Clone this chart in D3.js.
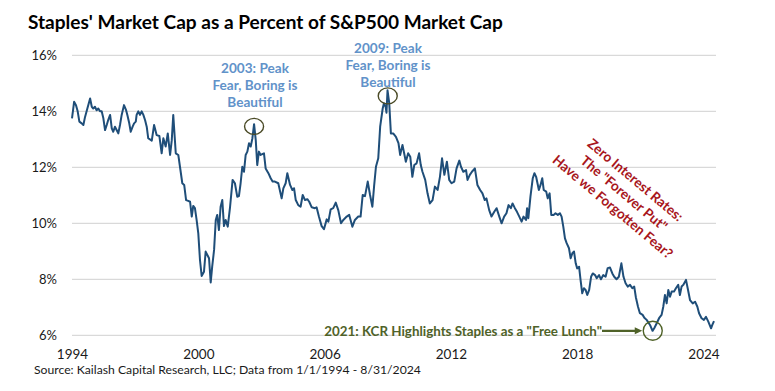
<!DOCTYPE html>
<html>
<head>
<meta charset="utf-8">
<script src="https://cdn.jsdelivr.net/npm/d3@7/dist/d3.min.js"></script>
<style>
  body { margin: 0; background: #fff; }
  text { font-family: Lato, "Open Sans", sans-serif; }
</style>
</head>
<body>
<script>
// decimal year / percent of S&P500 market cap
var years = [
  1994.00, 1994.10, 1994.19, 1994.27, 1994.35, 1994.46, 1994.54, 1994.62, 1994.73, 1994.86, 1994.94,
  1995.01, 1995.09, 1995.17, 1995.25, 1995.33, 1995.41, 1995.49, 1995.57, 1995.65, 1995.72, 1995.81, 1995.89, 1995.96,
  1996.04, 1996.12, 1996.20, 1996.28, 1996.36, 1996.47, 1996.57, 1996.63, 1996.72, 1996.79, 1996.88, 1996.95,
  1997.03, 1997.07, 1997.15, 1997.23, 1997.31, 1997.39, 1997.47, 1997.55, 1997.62, 1997.79, 1997.90,
  1998.02, 1998.15, 1998.26, 1998.34, 1998.45, 1998.55, 1998.66, 1998.74, 1998.81, 1998.93,
  1999.05, 1999.13, 1999.24, 1999.33, 1999.42, 1999.52, 1999.61, 1999.69, 1999.76, 1999.84, 1999.92,
  2000.00, 2000.08, 2000.16, 2000.27, 2000.35, 2000.43, 2000.51, 2000.59, 2000.66, 2000.75, 2000.83, 2000.90, 2000.98,
  2001.06, 2001.14, 2001.22, 2001.30, 2001.40, 2001.51, 2001.63, 2001.74, 2001.85, 2001.93,
  2002.01, 2002.09, 2002.17, 2002.25, 2002.33, 2002.41, 2002.49, 2002.57, 2002.65, 2002.73, 2002.80, 2002.88, 2002.96,
  2003.12, 2003.20, 2003.33, 2003.44, 2003.53, 2003.64, 2003.80, 2003.96,
  2004.04, 2004.15, 2004.23, 2004.36, 2004.47, 2004.55, 2004.63, 2004.75, 2004.86, 2004.96,
  2005.07, 2005.18, 2005.27, 2005.39, 2005.54, 2005.62, 2005.73, 2005.86, 2005.97,
  2006.10, 2006.18, 2006.29, 2006.41, 2006.53, 2006.65, 2006.78, 2006.89,
  2007.05, 2007.17, 2007.32, 2007.44, 2007.60, 2007.71, 2007.81, 2007.92,
  2008.05, 2008.16, 2008.27, 2008.35, 2008.44, 2008.55, 2008.64, 2008.76, 2008.82, 2008.90, 2008.94, 2008.99,
  2009.07, 2009.15, 2009.26, 2009.39, 2009.51, 2009.59, 2009.70, 2009.78, 2009.86, 2009.97,
  2010.07, 2010.17, 2010.26, 2010.37, 2010.49, 2010.57, 2010.65, 2010.78, 2010.89,
  2011.00, 2011.13, 2011.24, 2011.37, 2011.48, 2011.58, 2011.69, 2011.81, 2011.92,
  2012.03, 2012.16, 2012.27, 2012.40, 2012.48, 2012.59, 2012.72, 2012.79, 2012.90,
  2013.00, 2013.14, 2013.26, 2013.39, 2013.50, 2013.61, 2013.69, 2013.82, 2013.93,
  2014.06, 2014.17, 2014.30, 2014.41, 2014.53, 2014.64, 2014.74, 2014.85, 2014.93,
  2015.04, 2015.14, 2015.25, 2015.36, 2015.45, 2015.57, 2015.62, 2015.68, 2015.78, 2015.89, 2015.97,
  2016.05, 2016.18, 2016.26, 2016.34, 2016.41, 2016.53, 2016.60, 2016.69, 2016.77, 2016.88, 2016.97,
  2017.08, 2017.18, 2017.26, 2017.34, 2017.42, 2017.50, 2017.61, 2017.69, 2017.77, 2017.85, 2017.93,
  2018.00, 2018.09, 2018.16, 2018.24, 2018.32, 2018.40, 2018.48, 2018.57, 2018.66, 2018.74, 2018.85, 2018.93,
  2019.04, 2019.13, 2019.24, 2019.35, 2019.45, 2019.56, 2019.67, 2019.76, 2019.87, 2019.98,
  2020.10, 2020.20, 2020.30, 2020.40, 2020.51, 2020.62, 2020.71, 2020.79, 2020.89, 2020.98,
  2021.11, 2021.19, 2021.30, 2021.46, 2021.58, 2021.66, 2021.78, 2021.89,
  2022.01, 2022.09, 2022.17, 2022.25, 2022.33, 2022.41, 2022.49, 2022.60, 2022.69, 2022.80, 2022.88, 2022.96,
  2023.04, 2023.17, 2023.25, 2023.36, 2023.49, 2023.60, 2023.71, 2023.79, 2023.91,
  2024.02, 2024.12, 2024.23, 2024.36, 2024.42, 2024.50
];
var pct = [
  13.75, 14.34, 14.22, 14.00, 13.63, 13.57, 13.51, 13.80, 14.10, 14.46, 14.16,
  14.10, 14.16, 14.04, 14.10, 14.00, 14.00, 13.75, 13.33, 13.51, 13.69, 13.87, 13.39, 13.27,
  13.45, 13.33, 13.21, 13.51, 13.87, 14.22, 14.04, 13.87, 13.57, 13.27, 13.45, 13.57,
  13.63, 13.87, 14.00, 13.87, 14.00, 13.87, 13.69, 13.45, 13.04, 12.95, 13.51,
  13.15, 13.12, 12.50, 13.04, 12.74, 13.21, 12.44, 12.97, 13.87, 12.50,
  12.44, 12.02, 11.43, 11.37, 10.83, 10.80, 10.77, 10.24, 10.62, 10.54, 10.12,
  9.64, 8.69, 8.12, 8.27, 8.99, 8.87, 8.75, 7.89, 8.45, 9.05, 10.12, 10.30, 9.76,
  10.59, 10.83, 9.90, 10.12, 9.88, 10.59, 11.55, 11.43, 10.95, 10.97,
  11.43, 12.02, 11.84, 12.44, 12.56, 12.86, 12.74, 13.04, 13.54, 12.97, 12.08, 12.56, 12.44,
  12.50, 11.96, 11.79, 11.61, 11.49, 11.49, 11.43, 10.89,
  11.25, 11.43, 11.79, 11.37, 11.19, 11.25, 10.83, 10.65, 10.59, 11.01,
  10.83, 10.86, 10.77, 10.57, 10.54, 10.57, 10.24, 9.90, 9.79,
  10.14, 10.06, 10.50, 10.54, 10.74, 10.47, 10.00, 10.12,
  10.24, 10.30, 9.88, 10.12, 10.24, 10.24, 11.01, 10.97,
  11.49, 11.01, 10.59, 11.31, 12.02, 12.32, 13.45, 14.10, 14.29, 14.16, 13.95, 14.75,
  14.30, 13.21, 13.21, 13.09, 12.86, 12.44, 12.80, 12.50, 12.20, 12.50,
  12.38, 11.66, 12.08, 12.14, 12.50, 12.08, 11.84, 11.55, 11.07,
  10.71, 10.83, 11.31, 11.19, 11.66, 12.32, 11.73, 12.20, 11.55,
  11.43, 11.49, 11.96, 12.24, 12.02, 11.84, 11.90, 11.55, 11.73,
  11.84, 11.96, 11.37, 11.19, 11.07, 10.83, 10.89, 10.47, 10.24,
  10.41, 10.54, 10.24, 10.00, 10.24, 10.36, 10.65, 10.54, 10.71,
  10.54, 10.41, 10.24, 10.06, 10.24, 10.12, 10.54, 10.18, 10.95, 11.61, 11.79,
  11.66, 11.19, 11.37, 11.61, 11.19, 11.13, 10.89, 11.07, 10.30, 10.30, 10.36,
  10.30, 10.36, 10.24, 9.88, 9.46, 9.29, 9.11, 8.75, 8.93, 8.99, 8.57,
  8.39, 8.45, 7.98, 7.50, 7.68, 7.62, 7.44, 7.62, 8.09, 8.21, 8.15, 8.04,
  8.15, 8.00, 8.15, 8.09, 8.40, 8.42, 8.21, 8.09, 8.00, 8.09,
  8.57, 8.09, 7.86, 7.74, 7.80, 7.68, 7.74, 7.35, 7.02, 6.79,
  6.73, 6.63, 6.55, 6.37, 6.16, 6.25, 6.43, 6.61,
  6.73, 7.02, 7.44, 7.14, 7.62, 7.38, 7.56, 7.56, 7.68, 7.80, 7.44, 7.74,
  7.80, 7.98, 7.68, 7.26, 7.14, 7.20, 7.02, 6.79, 6.61,
  6.55, 6.66, 6.49, 6.25, 6.37, 6.51
];

var yTicks = [6, 8, 10, 12, 14, 16];
var xTicks = [1994, 2000, 2006, 2012, 2018, 2024];

var titleText = "Staples' Market Cap as a Percent of S&P500 Market Cap";
var sourceText = "Source: Kailash Capital Research, LLC; Data from 1/1/1994 - 8/31/2024";
var peakLines = ["Fear, Boring is", "Beautiful"];
var zeroLines = ["Zero Interest Rates:", "The \"Forever Put\"", "Have we Forgotten Fear?"];
var lunchText = "2021: KCR Highlights Staples as a \"Free Lunch\"";

var W = 775, H = 391;
var svg = d3.select('body').append('svg')
  .attr('width', W)
  .attr('height', H);

var x = d3.scaleLinear().domain([1994, 2024.5]).range([72, 714]);
var y = d3.scaleLinear().domain([6, 16]).range([335.3, 55.3]);

// shrink/grow a text to a target width
function fitWidth(node, w) {
  var s = parseFloat(d3.select(node).attr('font-size'));
  var l = node.getComputedTextLength();
  var ns = s * w / l;
  d3.select(node).attr('font-size', ns);
  return ns;
}

// title
var title = svg.append('text')
  .attr('x', 28)
  .attr('y', 28.5)
  .attr('font-size', 18)
  .attr('font-weight', 'bold')
  .attr('fill', '#000')
  .text(titleText);
fitWidth(title.node(), 475);

// grid
svg.append('g')
  .selectAll('line')
  .data(yTicks)
  .enter().append('line')
  .attr('x1', 72)
  .attr('x2', 716)
  .attr('y1', function (d) { return y(d); })
  .attr('y2', function (d) { return y(d); })
  .attr('stroke', '#d9d9d9')
  .attr('stroke-width', 1.2);

// y axis
var yAxis = svg.append('g')
  .attr('transform', 'translate(57,0)')
  .call(d3.axisLeft(y).tickValues(yTicks).tickSize(0).tickPadding(0)
    .tickFormat(function (d) { return d + '%'; }));
yAxis.select('.domain').remove();
yAxis.selectAll('text')
  .attr('font-family', 'Lato, sans-serif')
  .attr('font-size', 13)
  .attr('fill', '#1a1a1a');

// x axis
var xAxis = svg.append('g')
  .attr('transform', 'translate(0,349)')
  .call(d3.axisBottom(x).tickValues(xTicks).tickSize(0).tickPadding(0)
    .tickFormat(d3.format('d')));
xAxis.select('.domain').remove();
xAxis.selectAll('text')
  .attr('font-family', 'Lato, sans-serif')
  .attr('font-size', 13.5)
  .attr('fill', '#1a1a1a');

// series
var data = years.map(function (d, i) { return { year: d, v: pct[i] }; });
var line = d3.line()
  .x(function (d) { return x(d.year); })
  .y(function (d) { return y(d.v); });

svg.append('path')
  .datum(data)
  .attr('fill', 'none')
  .attr('stroke', '#1f4e79')
  .attr('stroke-width', 2)
  .attr('stroke-linejoin', 'round')
  .attr('d', line);

// peak annotations
var peaks = [
  { label: '2003: Peak', year: 2002.65, v: 13.46, tx: 255, ty: 73 },
  { label: '2009: Peak', year: 2009.0, v: 14.55, tx: 388, ty: 52.5 }
];

peaks.forEach(function (p) {
  svg.append('ellipse')
    .attr('cx', x(p.year))
    .attr('cy', y(p.v))
    .attr('rx', 9.5)
    .attr('ry', 8)
    .attr('fill', 'none')
    .attr('stroke', '#4a4a26')
    .attr('stroke-width', 1.4);

  var t = svg.append('text')
    .attr('x', p.tx)
    .attr('y', p.ty)
    .attr('text-anchor', 'middle')
    .attr('font-size', 14)
    .attr('font-weight', 'bold')
    .attr('fill', '#6192c9');
  t.append('tspan').attr('x', p.tx).attr('dy', 0).text(p.label);
  peakLines.forEach(function (s) {
    t.append('tspan').attr('x', p.tx).attr('dy', 17).text(s);
  });
  var l2 = t.selectAll('tspan').nodes()[1];
  var s = parseFloat(t.attr('font-size'));
  t.attr('font-size', s * 85 / l2.getComputedTextLength());
});

// zero rates annotation, rotated
var zg = svg.append('g')
  .attr('transform', 'translate(621,197) rotate(40)');
var zt = zg.append('text')
  .attr('text-anchor', 'middle')
  .attr('font-size', 14.5)
  .attr('font-weight', 'bold')
  .attr('fill', '#a8161c');
zeroLines.forEach(function (s, i) {
  zt.append('tspan').attr('x', 0).attr('y', (i - 1) * 17.5).text(s);
});
var zl = zt.selectAll('tspan').nodes()[2];
zt.attr('font-size', 14.5 * 152 / zl.getComputedTextLength());

// 2021 annotation
var lunch = { year: 2021.59, v: 6.16 };
var lx = x(lunch.year), ly = y(lunch.v);

svg.append('ellipse')
  .attr('cx', lx)
  .attr('cy', ly)
  .attr('rx', 9.5)
  .attr('ry', 9.5)
  .attr('fill', 'none')
  .attr('stroke', '#4f6228')
  .attr('stroke-width', 1.4);

svg.append('line')
  .attr('x1', 602)
  .attr('x2', lx - 17)
  .attr('y1', ly)
  .attr('y2', ly)
  .attr('stroke', '#4f6228')
  .attr('stroke-width', 2.2);

svg.append('path')
  .attr('d', 'M' + (lx - 10.5) + ',' + ly + 'L' + (lx - 18) + ',' + (ly - 3.5) + 'L' + (lx - 18) + ',' + (ly + 3.5) + 'Z')
  .attr('fill', '#4f6228');

var lt = svg.append('text')
  .attr('x', 602)
  .attr('y', ly + 5)
  .attr('text-anchor', 'end')
  .attr('font-size', 14)
  .attr('font-weight', 'bold')
  .attr('fill', '#4f6228')
  .text(lunchText);
fitWidth(lt.node(), 278);

// source
var src = svg.append('text')
  .attr('x', 34)
  .attr('y', 374)
  .attr('font-size', 12.5)
  .attr('fill', '#1a1a1a')
  .text(sourceText);
fitWidth(src.node(), 387);
</script>
</body>
</html>
